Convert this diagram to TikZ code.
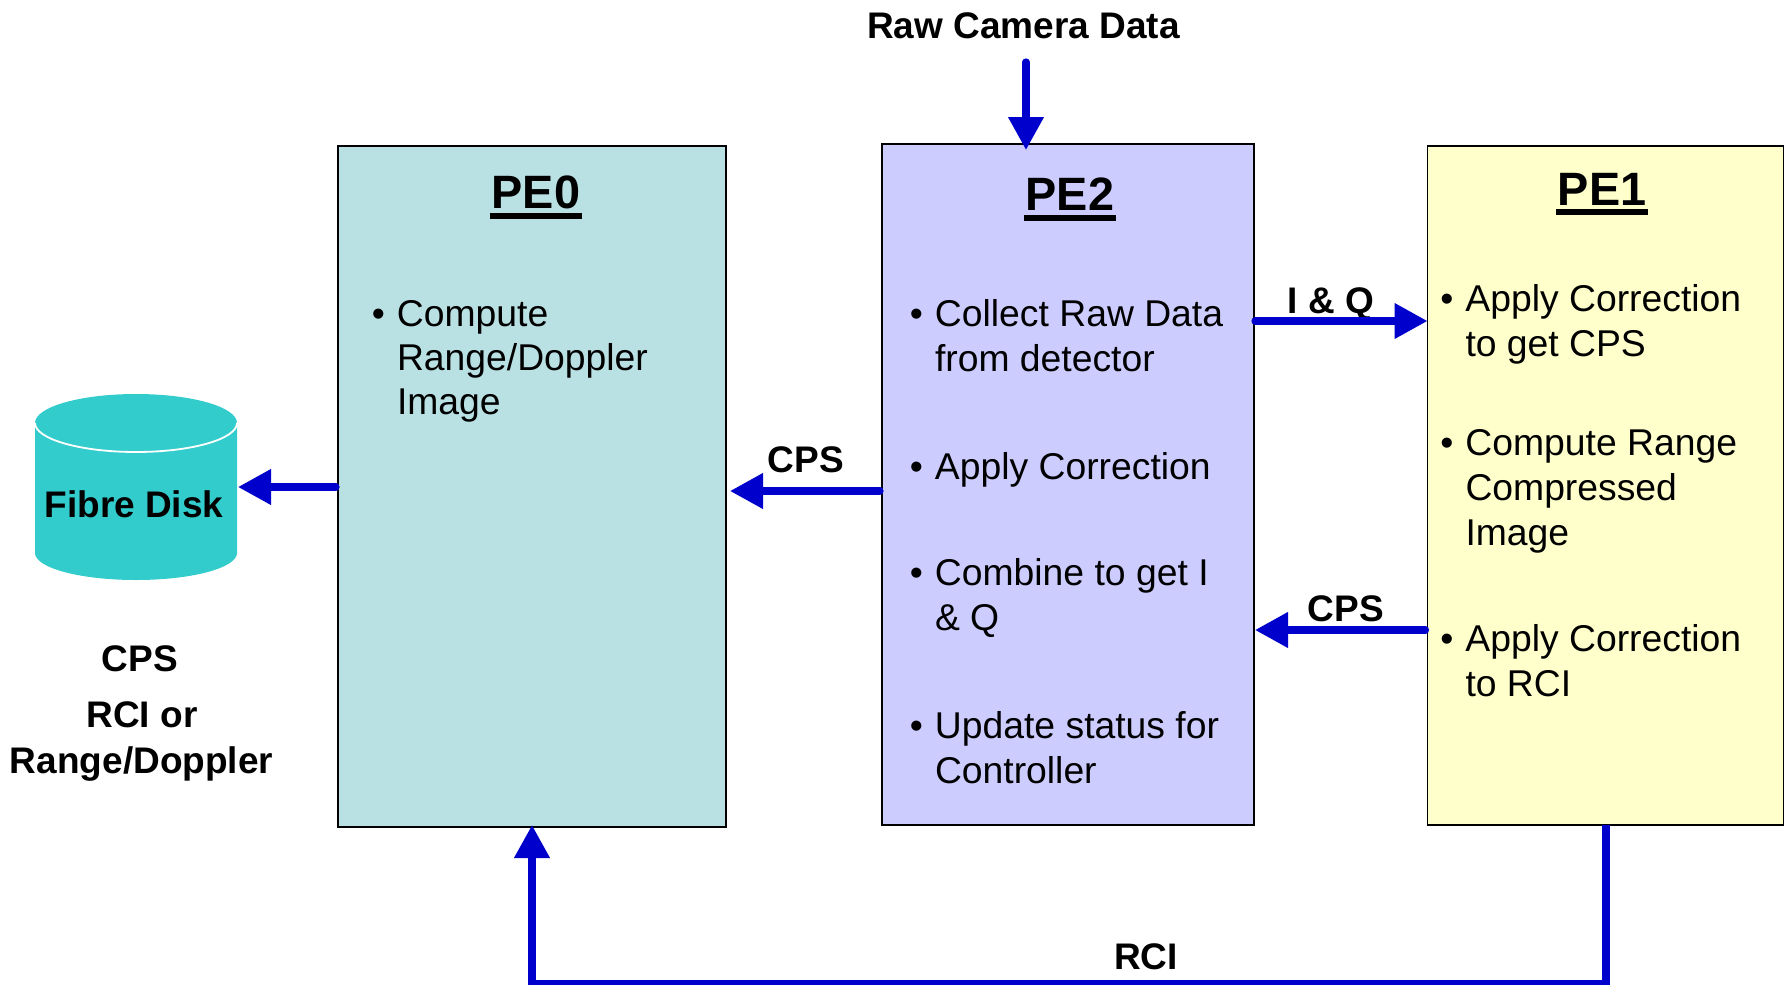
\documentclass[tikz,border=0pt]{standalone}
\usepackage{fontspec}
\setmainfont{Liberation Sans}
\usetikzlibrary{arrows.meta}
\definecolor{peA}{HTML}{B9E0E3}
\definecolor{peB}{HTML}{CCCCFF}
\definecolor{peC}{HTML}{FFFFCC}
\definecolor{diskc}{HTML}{33CCCC}
\definecolor{flowc}{HTML}{0000CC}
\newcommand{\bul}{\llap{•\kern6pt}}
\newcommand{\peTitle}[1]{\setbox0\hbox{#1}\kern-1pt\rlap{\rule[-5pt]{\dimexpr\wd0+2pt\relax}{3pt}}\kern1pt\box0}
\tikzset{
  pebox/.style={draw=black,line width=0.9pt,rectangle,inner sep=0pt,outer sep=0pt},
  body/.style={anchor=base west,inner sep=0pt,outer sep=0pt,align=left,font=\fontsize{18.65}{22.3}\selectfont},
  lab/.style={anchor=base,inner sep=0pt,outer sep=0pt,font=\fontsize{18.5}{22}\selectfont\bfseries},
  title/.style={anchor=base,inner sep=0pt,outer sep=0pt,font=\fontsize{23.4}{26}\selectfont\bfseries},
  flow/.style={draw=flowc,line width=3.6pt,line cap=round,-{Triangle[length=16.5pt,width=17pt,fill=flowc]}}
}
\begin{document}
\begin{tikzpicture}[x=0.5pt,y=-0.5pt]
\useasboundingbox (0,0) rectangle (1784,985);
% boxes
\node[pebox,fill=peA,minimum width=194pt,minimum height=340.5pt] (pe0) at (532,486.5) {};
\node[pebox,fill=peB,minimum width=186pt,minimum height=340.5pt] (pe2) at (1068,484.5) {};
\node[pebox,fill=peC,minimum width=178pt,minimum height=339.5pt] (pe1) at (1605.5,485.5) {};
% disk
\fill[diskc] (35,423) arc[start angle=180,end angle=360,x radius=101,y radius=29]
  -- (237,553) arc[start angle=0,end angle=180,x radius=101,y radius=27] -- cycle;
\draw[white,line width=0.9pt] (35,423) arc[start angle=180,end angle=0,x radius=101,y radius=29];
\node[lab] (disk) at (134,517) {Fibre Disk};
\coordinate (diskE) at (238,487);
% titles
\node[title] (t0) at (536,208.5) {\peTitle{PE0}};
\node[title] (t2) at (1070,210.5) {\peTitle{PE2}};
\node[title] (t1) at (1602,205) {\peTitle{PE1}};
% PE0 text
\node[body] (a0) at (397,414) {\bul Compute\\[-0.4pt]Range/Doppler\\[-0.4pt]Image};
% PE2 text
\node[body] (b0) at (935,371) {\bul Collect Raw Data\\from detector};
\node[body] (b1) at (935,479) {\bul Apply Correction};
\node[body] (b2) at (935,630) {\bul Combine to get I\\\& Q};
\node[body] (b3) at (935,783) {\bul Update status for\\Controller};
% PE1 text
\node[body] (c0) at (1465.5,356.5) {\bul Apply Correction\\to get CPS};
\node[body] (c1) at (1465.5,545) {\bul Compute Range\\Compressed\\Image};
\node[body] (c2) at (1465.5,696.5) {\bul Apply Correction\\to RCI};
% labels
\node[lab] (raw) at (1023.5,39) {Raw Camera Data};
\node[lab] (cpsA) at (806,472) {CPS};
\node[lab] (iq) at (1331,313) {I \& Q};
\node[lab] (cpsB) at (1346,621) {CPS};
\node[lab] (rci) at (1146,969) {RCI};
\node[lab] (l1) at (140,671) {CPS};
\node[lab] (l2) at (142,727) {RCI or};
\node[lab] (l3) at (141.5,773) {Range/Doppler};
% free ends and levels
\coordinate (rawS) at (1026,62);
\coordinate (yRaw) at (1026,150);
\coordinate (yIQ) at (0,321);
\coordinate (yA) at (0,491);
\coordinate (yB) at (0,630);
\coordinate (yD) at (0,487);
\coordinate (xR) at (1606,983.5);
\coordinate (xL) at (532,983.5);
% connectors
\draw[flow] (rawS) -- (yRaw);
\draw[flow] ([xshift=0.5pt]pe2.east |- yIQ) -- (pe1.west |- yIQ);
\draw[flow] ([xshift=-1pt]pe2.west |- yA) -- ([xshift=2pt]pe0.east |- yA);
\draw[flow] ([xshift=-1pt]pe1.west |- yB) -- ([xshift=0.5pt]pe2.east |- yB);
\draw[flow] ([xshift=-1pt]pe0.west |- yD) -- (diskE);
\draw[flow,line cap=butt] (pe1.south -| xR) -- (xR) -- (xL) -- ([yshift=1pt]pe0.south -| xL);
\end{tikzpicture}
\end{document}
